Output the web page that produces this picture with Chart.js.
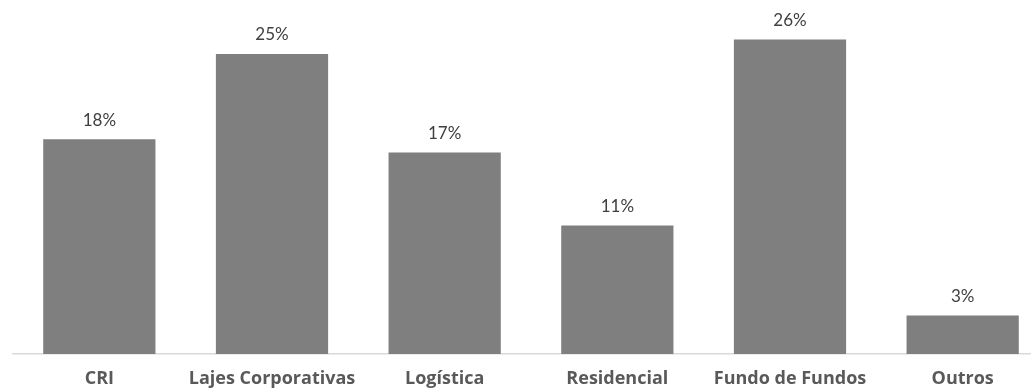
<!DOCTYPE html>
<html>
<head>
<meta charset="utf-8">
<script src="https://cdn.jsdelivr.net/npm/chart.js@4"></script>
<style>
  html, body { margin: 0; padding: 0; background: #fff; overflow: hidden; }
  #wrap { position: relative; width: 1049px; height: 388px; }
</style>
</head>
<body>
<div id="wrap"><canvas id="myChart"></canvas></div>
<script>
var categories = ['CRI', 'Lajes Corporativas', 'Logística', 'Residencial', 'Fundo de Fundos', 'Outros'];
var shares = [17.9, 25.0, 16.8, 10.7, 26.2, 3.2];

// draws the % value above every bar
var valueLabels = {
  id: 'valueLabels',
  afterDatasetsDraw: function (chart) {
    var ctx = chart.ctx;
    var meta = chart.getDatasetMeta(0);
    ctx.save();
    ctx.font = '17px Lato, "Open Sans", sans-serif';
    ctx.fillStyle = '#404040';
    ctx.textAlign = 'center';
    ctx.textBaseline = 'middle';
    meta.data.forEach(function (bar, i) {
      ctx.fillText(Math.round(shares[i]) + '%', bar.x, bar.y - 19);
    });
    ctx.restore();
  }
};

var ctx = document.getElementById('myChart').getContext('2d');
var chart = new Chart(ctx, {
  type: 'bar',
  data: {
    labels: categories,
    datasets: [{
      data: shares,
      backgroundColor: '#7f7f7f',
      barPercentage: 0.65,
      categoryPercentage: 1
    }]
  },
  options: {
    responsive: true,
    maintainAspectRatio: false,
    animation: false,
    layout: { padding: { left: 13, right: 0, top: 0, bottom: 0 } },
    plugins: { legend: { display: false }, tooltip: { enabled: false } },
    scales: {
      x: {
        afterFit: function (scale) { scale.height = 34; },
        grid: { display: false, drawTicks: false },
        border: { display: true, color: '#d9d9d9', width: 1.5 },
        ticks: {
          padding: 14,
          color: '#595959',
          font: { family: '"Open Sans", Lato, sans-serif', size: 18, weight: 'bold' },
          maxRotation: 0
        }
      },
      y: {
        display: false,
        min: 0,
        max: 29.5
      }
    }
  },
  plugins: [valueLabels]
});
</script>
</body>
</html>
